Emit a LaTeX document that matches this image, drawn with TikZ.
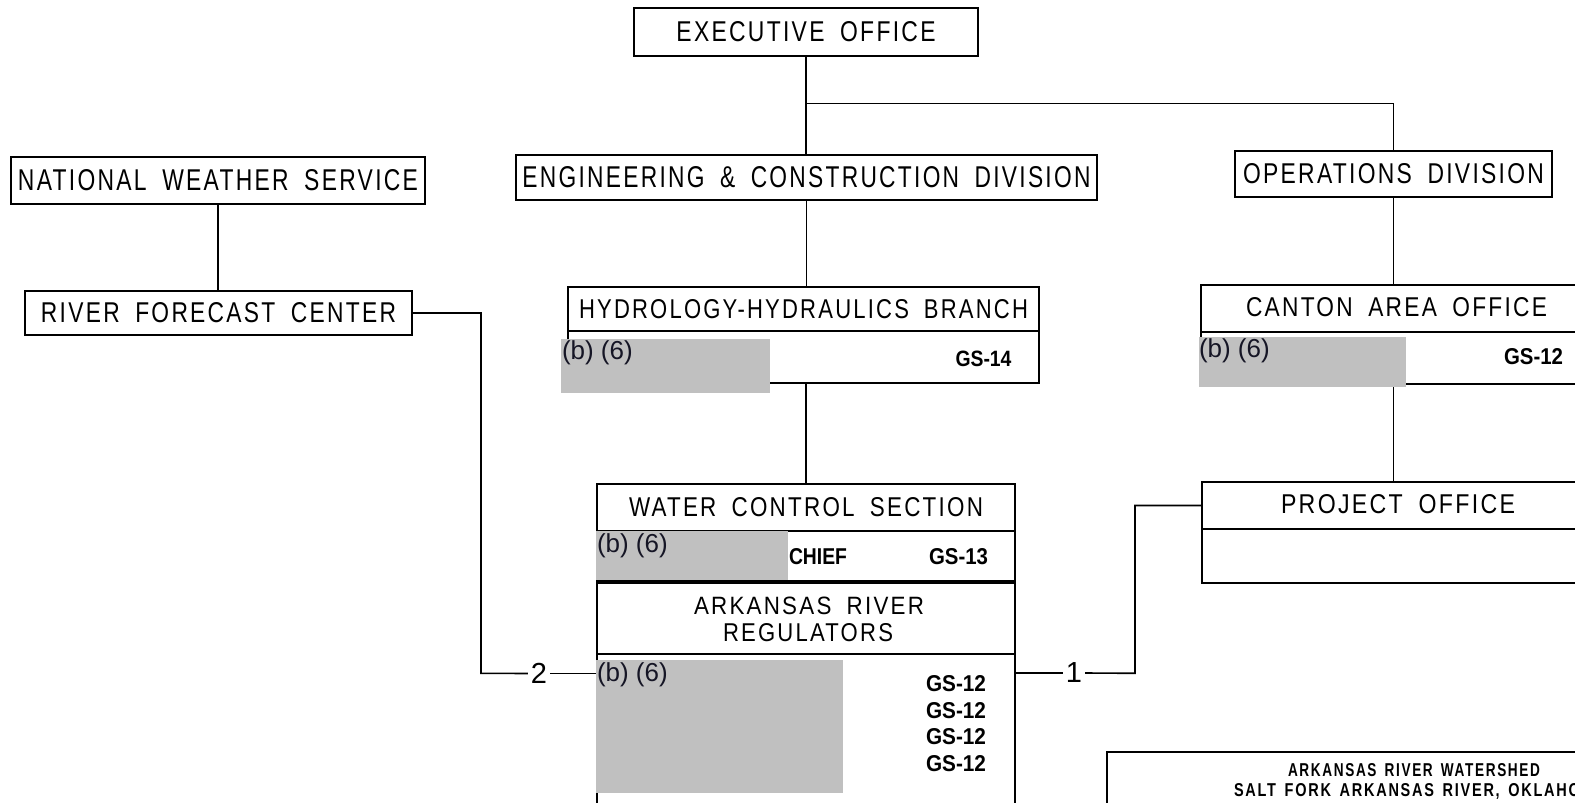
\documentclass[tikz,border=0pt]{standalone}
\usepackage{fontspec}
\setmainfont{Liberation Sans}
\newfontfamily\plotfont[LetterSpace=10,WordSpace=1.8]{Liberation Sans}
\newfontfamily\legfont[LetterSpace=12,WordSpace=1.5]{Liberation Sans}
\usepackage{graphicx}
\definecolor{redact}{HTML}{C0C0C0}
\definecolor{redtxt}{HTML}{151525}
\newcommand{\ptxt}[3]{\resizebox{#1pt}{#2pt}{\fontsize{14}{16}\plotfont #3}}
\newcommand{\btxt}[3]{\resizebox{#1pt}{#2pt}{\fontsize{11}{13}\selectfont\bfseries #3}}
\newcommand{\ltxt}[3]{\resizebox{#1pt}{#2pt}{\fontsize{11}{13}\legfont\bfseries #3}}
\newcommand{\obox}[6]{\node[obx, minimum width={(#4-#2)*0.5pt}, minimum height={(#5-#3)*0.5pt}] (#1) at ({(#2+#4)/2},{(#3+#5)/2}) {#6};}
\newcommand{\rbox}[5]{\node[redbox, minimum width={(#4-#2)*0.5pt}, minimum height={(#5-#3)*0.5pt}] (#1) at ({(#2+#4)/2},{(#3+#5)/2}) {};}
\tikzset{
 obx/.style={draw=black, line width=1pt, inner sep=0pt, outer sep=0pt},
 conn/.style={draw=black, line width=0.8pt},
 lbl/.style={inner sep=0pt, outer sep=0pt},
 numl/.style={inner sep=1.5pt, outer sep=0pt, font=\fontsize{14.5}{15}\selectfont},
 redbox/.style={fill=redact, draw=none, inner sep=0pt, outer sep=0pt},
 redlbl/.style={inner sep=0pt, outer sep=0pt, anchor=base west, text=redtxt, font=\fontsize{13}{15}\selectfont}
}
\begin{document}
\begin{tikzpicture}[x=0.5pt,y=-0.5pt]
\useasboundingbox (0,0) rectangle (1575,803);
\clip (0,0) rectangle (1575,803);
\fill[white] (0,0) rectangle (1575,803);

% header boxes
\obox{exec}{634}{8}{978}{56}{\ptxt{129.5}{10}{EXECUTIVE OFFICE}}
\obox{eng}{516}{155}{1097}{200}{\ptxt{284}{10.5}{ENGINEERING \& CONSTRUCTION DIVISION}}
\obox{nws}{11}{157}{425}{204}{\ptxt{200}{10.5}{NATIONAL WEATHER SERVICE}}
\obox{ops}{1235}{151}{1552}{197}{\ptxt{150.5}{10}{OPERATIONS DIVISION}}
\obox{rfc}{25}{291}{412}{335}{\ptxt{177.5}{10}{RIVER FORECAST CENTER}}
\obox{hh}{568}{287}{1039}{331}{\ptxt{224.5}{9.5}{HYDROLOGY-HYDRAULICS BRANCH}}
\obox{hhb}{568}{331}{1039}{383}{}
\obox{wcs}{597}{484}{1015}{531}{\ptxt{177}{9.5}{WATER CONTROL SECTION}}
\obox{wcsb}{597}{531}{1015}{581}{}
\obox{arr}{597}{583}{1015}{654}{}
\obox{arrb}{597}{654}{1015}{840}{}
\obox{can}{1201}{285}{1620}{332}{}
\obox{canb}{1201}{332}{1620}{384}{}
\obox{prj}{1202}{482}{1620}{529}{}
\obox{prjb}{1202}{529}{1620}{583}{}
\obox{leg}{1107}{752}{1700}{900}{}

% texts of boxes running off the page / two-line header
\node[lbl] (arrt1) at (809,605.5) {\ptxt{115}{8.75}{ARKANSAS RIVER}};
\node[lbl] (arrt2) at (808,633) {\ptxt{85}{9}{REGULATORS}};
\node[lbl] (cant) at (1396.5,307.5) {\ptxt{150.5}{9.5}{CANTON AREA OFFICE}};
\node[lbl] (prjt) at (1398,504.5) {\ptxt{117}{9.5}{PROJECT OFFICE}};
\node[lbl] (leg1) at (1414,770.5) {\ltxt{126}{6.5}{ARKANSAS RIVER WATERSHED}};
\node[lbl, anchor=west] (leg2) at (1234,791.5) {\ltxt{186}{6.5}{SALT FORK ARKANSAS RIVER, OKLAHOMA}};

% grade labels
\node[lbl] (gs14) at (983.5,358.5) {\btxt{28}{7.75}{GS-14}};
\node[lbl] (chief) at (818,556.5) {\btxt{29}{8}{CHIEF}};
\node[lbl] (gs13) at (958.5,556.5) {\btxt{29.5}{8}{GS-13}};
\node[lbl] (gsa) at (956,684) {\btxt{30}{8}{GS-12}};
\node[lbl] (gsb) at (956,710.5) {\btxt{30}{8}{GS-12}};
\node[lbl] (gsc) at (956,737) {\btxt{30}{8}{GS-12}};
\node[lbl] (gsd) at (956,763.5) {\btxt{30}{8}{GS-12}};
\node[lbl] (gsc2) at (1533.5,356.5) {\btxt{29.5}{8}{GS-12}};

% number labels
\node[numl] (two) at (539,673.5) {2};
\node[numl] (one) at (1074,673) {1};

% connectors
\draw[conn] (exec.south) -- (exec.south |- eng.north);
\coordinate (kb) at (806,103.5);
\draw[conn] (kb) -| (ops.north);
\draw[conn] (nws.south) -- (nws.south |- rfc.north);
\draw[conn] (eng.south) -- (eng.south |- hh.north);
\draw[conn] (wcs.north |- hhb.south) -- (wcs.north);
\draw[conn] (ops.south) -- (ops.south |- can.north);
\draw[conn] (ops.south |- canb.south) -- (ops.south |- prj.north);
\coordinate (k2) at (481,673.3);
\draw[conn] (rfc.east) -| (k2) -- (two.west);
\draw[conn] (two.east) -- (two.east -| arrb.west);
\coordinate (k1) at (1135,673.3);
\draw[conn] (arrb.east |- one) -- (one.west);
\draw[conn] (one.east) -- (k1) |- (prj.west);

% redactions
\rbox{g1}{561}{339}{770}{393}
\rbox{g2}{596}{531}{788}{580}
\rbox{g3}{596}{660}{843}{793}
\rbox{g4}{1199}{337}{1406}{387}
\node[redlbl] (r1) at (562,359) {(b) (6)};
\node[redlbl] (r2) at (597,552) {(b) (6)};
\node[redlbl] (r3) at (597,681) {(b) (6)};
\node[redlbl] (r4) at (1199,357) {(b) (6)};
\end{tikzpicture}
\end{document}
